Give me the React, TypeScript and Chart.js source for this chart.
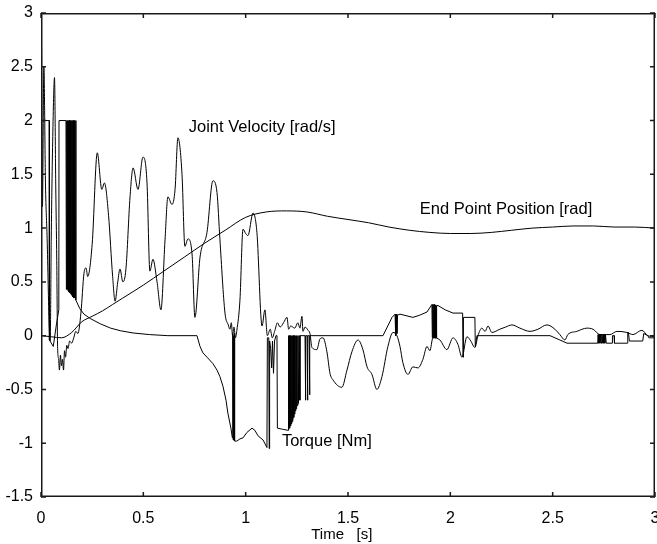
import React, { useEffect, useRef } from "react";
import { Chart, registerables } from "chart.js";

Chart.register(...registerables);

// End point position [rad]
const posT = [0, 0.05, 0.1, 0.15, 0.2, 0.25, 0.3, 0.35, 0.4, 0.5, 0.6, 0.7, 0.8, 0.9, 1.0, 1.1, 1.2, 1.3, 1.4, 1.5, 1.6, 1.7, 1.8, 1.9, 2.0, 2.1, 2.2, 2.3, 2.4, 2.5, 2.6, 2.7, 2.8, 2.9, 3.0];
const posV = [0, -0.01, -0.02, 0.03, 0.13, 0.18, 0.23, 0.29, 0.35, 0.47, 0.6, 0.73, 0.86, 0.98, 1.1, 1.15, 1.16, 1.15, 1.11, 1.08, 1.05, 1.01, 0.98, 0.96, 0.95, 0.95, 0.96, 0.98, 1.0, 1.01, 1.02, 1.02, 1.01, 1.01, 1.0];

// Joint velocity [rad/s]
const velT = [0, 0.002, 0.007, 0.014, 0.022, 0.03, 0.04, 0.045, 0.05, 0.058, 0.066, 0.072, 0.077, 0.081, 0.086, 0.09, 0.095, 0.1, 0.105, 0.11, 0.115, 0.12, 0.126, 0.132, 0.14, 0.15, 0.16, 0.17, 0.18, 0.195, 0.21, 0.22, 0.228, 0.25, 0.275, 0.297, 0.31, 0.33, 0.35, 0.362, 0.375, 0.386, 0.4, 0.415, 0.435, 0.45, 0.474, 0.498, 0.518, 0.532, 0.547, 0.567, 0.586, 0.606, 0.62, 0.64, 0.655, 0.669, 0.689, 0.703, 0.718, 0.738, 0.752, 0.777, 0.811, 0.84, 0.86, 0.874, 0.899, 0.915, 0.923, 0.93, 0.936, 0.943, 0.95, 0.957, 0.972, 0.987, 1.0, 1.011, 1.036, 1.055, 1.08, 1.094, 1.106, 1.12, 1.13, 1.143, 1.155, 1.168, 1.185, 1.202, 1.21, 1.22, 1.24, 1.255, 1.265, 1.275, 1.28, 1.29, 1.305, 1.314, 1.324, 1.348, 1.363, 1.378, 1.397, 1.412, 1.426, 1.47, 1.495, 1.519, 1.549, 1.573, 1.593, 1.617, 1.641, 1.666, 1.695, 1.72, 1.739, 1.754, 1.768, 1.793, 1.817, 1.842, 1.866, 1.886, 1.9, 1.915, 1.949, 1.983, 2.013, 2.037, 2.057, 2.081, 2.1, 2.12, 2.135, 2.154, 2.17, 2.184, 2.203, 2.242, 2.27, 2.301, 2.34, 2.389, 2.428, 2.472, 2.511, 2.535, 2.56, 2.574, 2.618, 2.667, 2.697, 2.731, 2.78, 2.814, 2.863, 2.892, 2.936, 2.965, 3.0];
const velV = [0, 2.75, 1.2, 2.5, 1.4, 0.9, 0.1, -0.05, 0.9, 1.9, 2.4, 1.4, 0.7, -0.1, -0.22, -0.32, -0.18, -0.28, -0.22, -0.32, -0.14, -0.2, -0.09, -0.12, -0.05, -0.07, -0.02, 0.04, 0.02, 0.21, 0.58, 0.63, 0.55, 0.85, 1.7, 1.36, 1.42, 1.12, 0.55, 0.32, 0.5, 0.62, 0.5, 0.62, 1.29, 1.56, 1.36, 1.66, 1.42, 0.6, 0.71, 0.5, 0.24, 0.89, 1.29, 1.22, 1.36, 1.84, 1.5, 0.83, 0.9, 0.76, 0.17, 0.73, 0.96, 1.44, 1.33, 0.9, 0.21, 0.1, 0.06, 0.12, 0.0, 0.08, -0.02, 0.05, 0.33, 0.99, 0.95, 0.93, 1.14, 0.96, 0.09, 0.24, 0.0, 0.06, -0.02, 0.05, 0.12, 0.08, 0.12, 0.17, 0.06, 0.09, 0.07, 0.12, 0.07, 0.18, 0.04, 0.08, 0.05, 0.02, -0.11, -0.13, -0.03, -0.02, -0.15, -0.35, -0.41, -0.48, -0.32, -0.15, -0.04, -0.13, -0.29, -0.36, -0.5, -0.38, -0.1, 0.03, 0.0, -0.1, -0.25, -0.36, -0.29, -0.3, -0.22, -0.1, -0.14, -0.02, -0.04, -0.13, -0.02, -0.08, -0.2, -0.01, -0.05, -0.11, 0.0, 0.07, 0.04, 0.09, 0.03, 0.06, 0.08, 0.1, 0.07, 0.04, 0.06, 0.1, 0.06, 0.01, -0.04, 0.01, 0.04, 0.07, 0.06, 0.01, 0.01, 0.04, 0.03, 0.01, 0.05, 0.0, -0.01];

// Torque [Nm] (with rapid switching bands)
const torT = [0, 0.04, 0.041, 0.06, 0.075, 0.087, 0.088, 0.122,
  0.124, 0.126, 0.128, 0.13, 0.132, 0.134, 0.136, 0.138, 0.14, 0.142, 0.144, 0.146, 0.148, 0.15, 0.152, 0.154, 0.156, 0.158, 0.16, 0.162, 0.164, 0.166, 0.168, 0.17, 0.171,
  0.19, 0.21, 0.24, 0.29, 0.34, 0.39, 0.45, 0.53, 0.62, 0.762, 0.777, 0.791, 0.811, 0.84, 0.86, 0.874, 0.889, 0.904, 0.913, 0.928, 0.935,
  0.937, 0.939, 0.941, 0.943, 0.945, 0.947,
  0.957, 0.972, 0.987, 1.006, 1.031, 1.045, 1.06, 1.085, 1.104, 1.106, 1.113, 1.115, 1.117, 1.122, 1.127, 1.131, 1.136, 1.141, 1.148, 1.153, 1.155, 1.18, 1.207,
  1.209, 1.211, 1.213, 1.215, 1.217, 1.219, 1.221, 1.223, 1.225, 1.227, 1.229, 1.231, 1.233, 1.235, 1.237, 1.239, 1.241, 1.243, 1.245, 1.247, 1.249, 1.252, 1.255, 1.258, 1.261, 1.265, 1.266,
  1.29, 1.292, 1.294, 1.3, 1.302, 1.304, 1.31, 1.312, 1.314,
  1.671, 1.715, 1.73, 1.733, 1.736, 1.739, 1.742, 1.754, 1.817, 1.85, 1.886, 1.91,
  1.912, 1.914, 1.916, 1.918, 1.92, 1.922, 1.924, 1.926, 1.928, 1.93, 1.932, 1.934,
  1.94, 1.975, 2.013, 2.06, 2.062, 2.064, 2.12, 2.122, 2.13, 2.487, 2.535, 2.57, 2.72,
  2.722, 2.725, 2.728, 2.731, 2.734, 2.737, 2.74, 2.743, 2.746, 2.749, 2.752, 2.755, 2.758, 2.762,
  2.79, 2.792, 2.8, 2.802, 2.865, 2.867, 2.87, 2.875, 2.94, 2.945, 2.965, 2.97, 3.0];
const torV = [2.0, 2.0, -0.04, -0.1, 0.1, 0.24, 2.0, 2.0,
  0.43, 2.0, 0.43, 2.0, 0.42, 2.0, 0.41, 2.0, 0.4, 2.0, 0.39, 2.0, 0.38, 2.0, 0.37, 2.0, 0.36, 2.0, 0.35, 2.0, 0.35, 2.0, 0.34, 2.0, 0.33,
  0.25, 0.2, 0.16, 0.11, 0.07, 0.045, 0.025, 0.01, 0.0, 0.0, -0.1, -0.16, -0.2, -0.26, -0.32, -0.38, -0.47, -0.6, -0.72, -0.86, -0.95,
  0.02, -0.97, 0.0, -0.97, 0.02, -0.98,
  -0.98, -0.96, -0.95, -0.9, -0.86, -0.88, -0.93, -0.97, -1.04, -0.02, -0.02, -1.05, -0.05, -0.12, -0.3, -0.05, -0.35, -0.05, 0.0, 0.0, -0.86, -0.87, -0.88,
  0.0, -0.87, 0.0, -0.86, 0.0, -0.84, 0.0, -0.82, 0.0, -0.8, 0.0, -0.78, 0.0, -0.76, 0.0, -0.73, 0.0, -0.7, 0.0, -0.68, 0.0, -0.65, 0.0, -0.63, 0.0, -0.6, 0.0,
  0.0, -0.6, 0.0, 0.0, -0.6, 0.0, 0.0, -0.55, 0.0,
  0.0, 0.17, 0.2, 0.0, 0.2, 0.02, 0.19, 0.2, 0.17, 0.19, 0.22, 0.29,
  -0.02, 0.29, -0.02, 0.29, -0.02, 0.29, -0.02, 0.28, -0.02, 0.28, -0.02, 0.28,
  0.28, 0.24, 0.21, 0.21, -0.2, 0.17, 0.17, -0.1, 0.0, 0.0, -0.04, -0.07, -0.07,
  0.01, -0.07, 0.01, -0.07, 0.01, -0.07, 0.01, -0.07, 0.01, -0.07, 0.01, -0.07, 0.01, -0.07,
  -0.07, 0.0, 0.0, -0.07, -0.07, 0.03, 0.03, -0.05, -0.05, 0.02, 0.0, -0.02, -0.02];

const xTicks = [0, 0.5, 1, 1.5, 2, 2.5, 3];
const yTicks = [-1.5, -1, -0.5, 0, 0.5, 1, 1.5, 2, 2.5, 3];

const labelTexts = ["Joint Velocity [rad/s]", "End Point Position [rad]", "Torque [Nm]"];
const labelT = [0.722, 1.851, 1.177];
const labelV = [1.89, 1.13, -1.03];

const FONT = "'Liberation Sans', Arial, Helvetica, sans-serif";

const zip = (t: number[], v: number[]) => t.map((x, i) => ({ x, y: v[i] }));

const framePlugin = {
  id: "frameAndLabels",
  afterDraw(chart: any) {
    const { ctx, chartArea, scales } = chart;
    const left = chartArea.left, right = chartArea.right, top = chartArea.top, bottom = chartArea.bottom;
    ctx.save();
    ctx.setLineDash([]);
    ctx.strokeStyle = "#1a1a1a";
    ctx.lineWidth = 1.5;
    ctx.beginPath();
    ctx.rect(left + 0.75, top + 0.75, right - left - 1.5, bottom - top - 1.5);
    ctx.stroke();
    ctx.beginPath();
    const tl = 5;
    xTicks.forEach((v) => {
      const px = scales.x.getPixelForValue(v);
      ctx.moveTo(px, bottom);
      ctx.lineTo(px, bottom - tl);
      ctx.moveTo(px, top);
      ctx.lineTo(px, top + tl);
    });
    yTicks.forEach((v) => {
      const py = scales.y.getPixelForValue(v);
      ctx.moveTo(left, py);
      ctx.lineTo(left + tl, py);
      ctx.moveTo(right, py);
      ctx.lineTo(right - tl, py);
    });
    ctx.stroke();
    ctx.fillStyle = "#000";
    ctx.font = `16.5px ${FONT}`;
    ctx.textBaseline = "alphabetic";
    ctx.textAlign = "left";
    labelTexts.forEach((txt, i) => {
      ctx.fillText(txt, scales.x.getPixelForValue(labelT[i]), scales.y.getPixelForValue(labelV[i]));
    });
    ctx.restore();
  },
};

export default function App() {
  const ref = useRef<HTMLCanvasElement | null>(null);
  useEffect(() => {
    if (!ref.current) return;
    const line = { borderColor: "#000", borderWidth: 1, pointRadius: 0, fill: false };
    const chart = new Chart(ref.current, {
      type: "line",
      data: {
        datasets: [
          { ...line, label: "End Point Position [rad]", data: zip(posT, posV), cubicInterpolationMode: "monotone" },
          { ...line, label: "Joint Velocity [rad/s]", data: zip(velT, velV), cubicInterpolationMode: "monotone" },
          { ...line, label: "Torque [Nm]", data: zip(torT, torV), tension: 0 },
        ],
      } as any,
      options: {
        animation: false,
        responsive: false,
        devicePixelRatio: 1,
        parsing: false as any,
        layout: { padding: { left: 0, top: 13, right: 2, bottom: 0 } },
        plugins: { legend: { display: false }, tooltip: { enabled: false } },
        events: [],
        scales: {
          x: {
            type: "linear",
            min: 0,
            max: 3,
            afterBuildTicks: (s: any) => { s.ticks = xTicks.map((v) => ({ value: v })); },
            ticks: { color: "#000", font: { family: FONT, size: 16 }, padding: 12, maxRotation: 0, callback: (v: any) => String(v) },
            grid: { display: false, drawTicks: false },
            border: { display: false },
            title: { display: true, text: "Time   [s]   ", color: "#000", font: { family: FONT, size: 15 }, padding: { top: 0, bottom: 0 } },
            afterFit: (s: any) => { s.height = 47; s.paddingLeft = 0; s.paddingRight = 0; },
          },
          y: {
            type: "linear",
            min: -1.5,
            max: 3,
            afterBuildTicks: (s: any) => { s.ticks = yTicks.map((v) => ({ value: v })); },
            ticks: { color: "#000", font: { family: FONT, size: 16 }, padding: 8, callback: (v: any) => String(v) },
            grid: { display: false, drawTicks: false },
            border: { display: false },
            afterFit: (s: any) => { s.width = 41; s.paddingTop = 0; s.paddingBottom = 0; },
          },
        },
      } as any,
      plugins: [framePlugin],
    });
    return () => chart.destroy();
  }, []);
  return (
    <div style={{ position: "absolute", left: 0, top: 0, width: 657, height: 544, background: "#fff" }}>
      <canvas ref={ref} width={657} height={544} style={{ display: "block", width: 657, height: 544 }} />
    </div>
  );
}
